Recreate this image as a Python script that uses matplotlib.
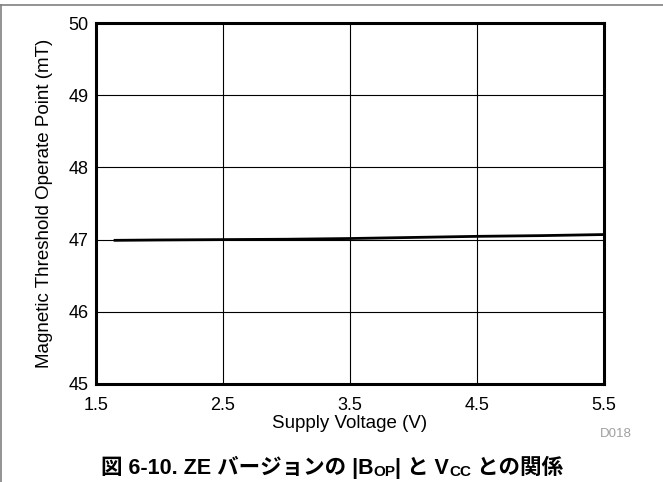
import matplotlib
matplotlib.use("Agg")
from matplotlib import pyplot as plt
from matplotlib.lines import Line2D

# Data
vcc = [1.65, 2.0, 2.5, 3.0, 3.5, 4.0, 4.5, 5.0, 5.5]
bop = [46.99, 46.995, 47.0, 47.005, 47.015, 47.03, 47.045, 47.055, 47.07]
xticks = [1.5, 2.5, 3.5, 4.5, 5.5]
yticks = [45, 46, 47, 48, 49, 50]

plt.rcParams['font.family'] = ['Liberation Sans', 'Noto Sans CJK JP']

W, H = 663, 482
fig = plt.figure(figsize=(W / 100, H / 100), dpi=100)
ax = fig.add_axes([96 / W, 1 - 384 / H, 508 / W, 361 / H])

ax.plot(vcc, bop, color='black', linewidth=2)
ax.set_xlim(1.5, 5.5)
ax.set_ylim(45, 50)
ax.set_xticks(xticks)
ax.set_xticklabels([f"{t:.1f}" for t in xticks])
ax.set_yticks(yticks)
ax.grid(True, color='black', linewidth=0.8)
ax.tick_params(length=0, labelsize=13)
ax.tick_params(axis='x', pad=9)
ax.tick_params(axis='y', pad=5.5)
for s in ax.spines.values():
    s.set_linewidth(2.2)

ax.set_xlabel("Supply Voltage (V)", fontsize=13.5, labelpad=1)
ax.set_ylabel("Magnetic Threshold Operate Point (mT)", fontsize=13.5, labelpad=11)
fig.text(616 / W, 1 - 434 / H, "D018", color='#a0a0a0', fontsize=9.5, ha='center', va='center')

# figure frame (top and left)
fig.add_artist(Line2D([0, 1], [1 - 5 / H, 1 - 5 / H], color='#808080', linewidth=1.2,
                      transform=fig.transFigure))
fig.add_artist(Line2D([1 / W, 1 / W], [0, 1 - 5 / H], color='#808080', linewidth=1.2,
                      transform=fig.transFigure))

# caption with subscripts, drawn piece by piece
pieces = [
    ("図 6-10. ZE バージョンの |B", 15.5, 0),
    ("OP", 11, -2.5),
    ("| と V", 15.5, 0),
    ("CC", 11, -2.5),
    (" との関係", 15.5, 0),
]
fig.canvas.draw()
renderer = fig.canvas.get_renderer()
texts = []
total = 0
for s, fs, dy in pieces:
    t = fig.text(0, 0, s, fontsize=fs, fontweight='bold', ha='left', va='baseline',
                 family=['Liberation Sans', 'Noto Sans CJK JP'])
    w = t.get_window_extent(renderer).width
    texts.append((t, w, dy))
    total += w
x0 = 332 - total / 2
base = H - 474
for t, w, dy in texts:
    t.set_position((x0 / W, (base + dy) / H))
    x0 += w

fig.savefig("out.png", dpi=100)
